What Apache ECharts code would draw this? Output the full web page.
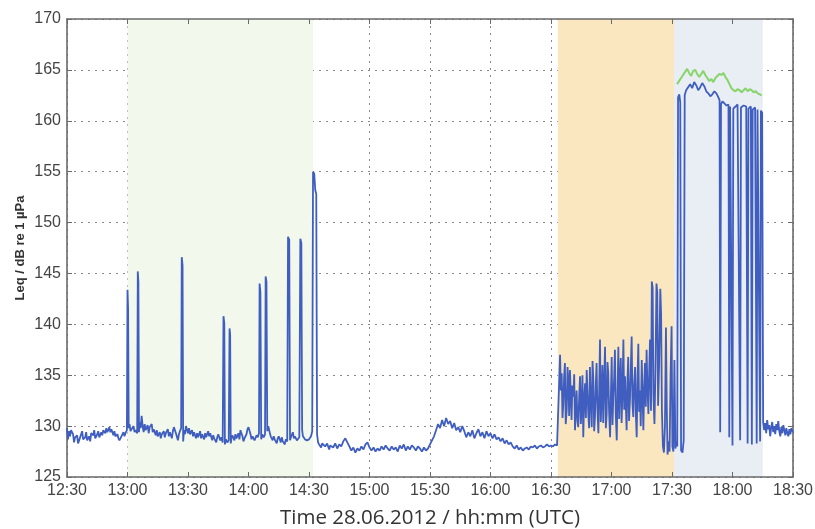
<!DOCTYPE html>
<html>
<head>
<meta charset="utf-8">
<title>Leq trace 28.06.2012</title>
<script src="https://cdn.jsdelivr.net/npm/echarts@6/dist/echarts.min.js"></script>
<style>
  html, body { margin: 0; padding: 0; background: #fff; }
  #chart { width: 815px; height: 529px; }
</style>
</head>
<body>
<div id="chart"></div>
<script>
// x = minutes after 12:30 UTC, y = Leq in dB re 1 µPa
const timeLabels = ['12:30', '13:00', '13:30', '14:00', '14:30', '15:00', '15:30',
  '16:00', '16:30', '17:00', '17:30', '18:00', '18:30']

// shaded periods [start, end] in minutes
const greenPeriod = [30, 122]
const orangePeriod = [243.4, 301]
const greyPeriod = [301, 345]

// 12:30 - 14:34, background with short passes
const earlyTrace = [
  [0, 129.8], [0.5, 128.7], [1, 129.5], [1.5, 129.0], [2, 129.6], [3, 129.2], [3.5, 128.4], [4, 128.9],
  [5, 129.1], [5.5, 128.3], [6, 128.6], [7, 129.2], [7.5, 129.5], [8, 128.7], [9, 128.9], [9.5, 129.4],
  [10, 128.6], [11, 129.0], [11.5, 128.5], [12, 129.3], [13, 129.1], [13.5, 129.6], [14, 128.8], [15, 129.2],
  [15.5, 129.5], [16, 128.9], [17, 129.4], [17.5, 129.1], [18, 129.6], [19, 129.3], [19.5, 129.8], [20, 129.4],
  [21, 129.9], [21.5, 129.4], [22, 129.7], [23, 129.1], [23.5, 129.5], [24, 129.0], [25, 129.2], [25.5, 128.8],
  [26, 128.6], [27, 129.0], [28, 129.4], [28.5, 129.0], [29, 129.3], [29.7, 129.6], [30.0, 143.4], [30.3, 141.5],
  [30.6, 129.8], [31, 130.2], [31.5, 129.5], [32, 129.7], [33, 130.0], [33.5, 129.4], [34, 129.6], [34.8, 129.3],
  [35.1, 145.2], [35.4, 144.2], [35.7, 129.4], [36, 130.4], [36.5, 129.8], [37, 131.0], [37.5, 130.0], [38, 129.4],
  [38.5, 130.2], [39, 129.6], [40, 130.1], [40.5, 129.3], [41, 129.9], [42, 130.2], [42.5, 129.4], [43, 129.7],
  [44, 129.1], [44.5, 129.6], [45, 129.0], [46, 129.4], [46.5, 128.8], [47, 129.2], [48, 129.5], [48.5, 128.9],
  [49, 129.3], [50, 129.7], [50.5, 129.0], [51, 129.4], [52, 128.8], [52.5, 129.5], [53, 129.9], [54, 129.3],
  [55, 128.6], [55.5, 129.2], [56, 129.5], [56.6, 129.8], [56.9, 146.6], [57.3, 145.8], [57.6, 128.5], [58, 129.6],
  [58.5, 129.2], [59, 130.0], [60, 129.3], [60.5, 129.8], [61, 129.2], [62, 129.6], [62.5, 129.0], [63, 129.4],
  [64, 128.8], [64.5, 129.3], [65, 128.9], [66, 129.5], [66.5, 128.8], [67, 129.2], [68, 128.7], [68.5, 129.3],
  [69, 128.9], [70, 129.5], [70.5, 129.0], [71, 129.3], [72, 128.6], [72.5, 129.1], [73, 128.8], [74, 128.4],
  [74.5, 128.9], [75, 129.2], [76, 128.6], [76.5, 128.9], [77.2, 128.4], [77.6, 140.8], [78.0, 140.1], [78.3, 128.2],
  [78.8, 128.7], [79.5, 128.4], [80.2, 128.6], [80.6, 139.6], [80.9, 139.0], [81.2, 128.3], [81.6, 128.9], [82, 129.1],
  [83, 128.6], [83.5, 129.2], [84, 128.8], [85, 129.3], [85.5, 128.7], [86, 129.6], [87, 129.0], [87.5, 128.5],
  [88, 128.8], [89, 129.2], [89.5, 129.7], [90, 129.9], [91, 129.2], [91.5, 128.7], [92, 129.0], [93, 128.6],
  [94, 129.1], [94.6, 128.9], [95.2, 129.3], [95.5, 144.0], [95.9, 143.2], [96.3, 128.7], [96.8, 129.2], [97.5, 128.9],
  [98.2, 129.2], [98.5, 144.7], [98.9, 144.2], [99.3, 129.5], [99.8, 130.0], [100.5, 129.4], [101, 129.0], [102, 128.6],
  [102.5, 129.0], [103, 128.7], [104, 128.3], [104.5, 128.8], [105, 129.0], [106, 128.4], [106.5, 128.9], [107, 128.5],
  [108, 128.2], [108.5, 128.7], [109.2, 128.5], [109.6, 148.6], [110.2, 148.3], [110.6, 128.6], [111, 128.9], [112, 129.4],
  [112.5, 128.8], [113, 129.0], [114, 128.6], [115.2, 128.9], [115.7, 148.4], [116.2, 148.0], [116.6, 129.6], [117, 129.0],
  [118, 128.7], [119, 128.6], [120, 128.7], [121, 129.0], [121.6, 129.5], [122.0, 155.0], [122.6, 154.8], [123.1, 153.2],
  [123.6, 152.8], [124.0, 129.2]
]

// 14:34 - 16:33, quiet period
const quietTrace = [
  [124.5, 128.4], [125, 128.2], [126, 127.9], [126.5, 128.3], [127, 128.4], [128, 128.0], [129, 128.3], [130, 127.7],
  [130.5, 128.1], [131, 128.1], [132, 127.9], [133, 128.3], [134, 127.8], [135, 128.2], [136, 128.0], [137, 128.5],
  [138, 128.8], [139, 128.4], [140, 128.0], [141, 127.6], [142, 127.9], [143, 127.4], [144, 127.8], [145, 127.6],
  [146, 128.0], [147, 127.7], [148, 128.2], [149, 128.4], [150, 127.9], [151, 127.6], [152, 127.9], [153, 127.5],
  [154, 127.8], [155, 127.6], [156, 128.0], [157, 127.7], [158, 128.1], [159, 127.8], [160, 127.6], [161, 128.0],
  [162, 127.7], [163, 127.9], [164, 127.5], [165, 128.1], [166, 127.8], [167, 128.2], [168, 127.6], [169, 128.0],
  [170, 127.7], [171, 128.1], [172, 127.9], [173, 127.6], [174, 128.0], [175, 127.8], [176, 127.5], [177, 127.9],
  [178, 127.6], [179, 127.8], [180, 128.2], [181, 128.6], [182, 129.0], [183, 129.6], [184, 130.2], [185, 129.8],
  [186, 130.6], [187, 130.0], [188, 130.8], [189, 130.2], [190, 130.5], [191, 129.8], [192, 130.3], [193, 129.6],
  [194, 129.9], [195, 129.4], [196, 130.0], [197, 129.5], [198, 128.9], [199, 129.4], [200, 129.0], [201, 129.6],
  [202, 128.8], [203, 129.3], [204, 129.7], [205, 129.0], [206, 129.4], [207, 128.8], [208, 129.5], [209, 129.0],
  [210, 129.3], [211, 128.8], [212, 129.2], [213, 128.7], [214, 128.9], [215, 128.5], [216, 128.8], [217, 128.3],
  [218, 128.6], [219, 128.2], [220, 128.4], [221, 128.0], [222, 127.8], [223, 128.1], [224, 127.7], [225, 127.9],
  [226, 127.6], [227, 127.8], [228, 127.9], [229, 127.7], [230, 128.0], [231, 127.9], [232, 128.1], [233, 127.8],
  [234, 128.0], [235, 128.1], [236, 127.9], [237, 128.0], [238, 128.2], [239, 128.0], [240, 128.1], [241, 128.0],
  [242, 128.2], [243, 128.1], [243.8, 128.0]
]

// 16:33 - 17:31, busy period
const busyTrace = [
  [244.5, 137.0], [244.9, 133.5], [245.3, 135.2], [245.7, 130.8], [246.1, 132.2], [246.5, 134.8], [246.9, 136.2],
  [247.3, 130.2], [247.8, 131.6], [248.2, 135.8], [248.6, 134.5], [249.0, 131.0], [249.4, 135.5], [249.8, 133.2],
  [250.2, 130.6], [250.6, 134.0], [251.1, 132.9], [251.5, 135.1], [251.9, 129.6], [252.3, 131.8], [252.7, 133.5],
  [253.1, 130.5], [253.5, 129.9], [254.0, 133.0], [254.4, 134.9], [254.8, 130.2], [255.2, 131.9], [255.6, 135.0],
  [256.0, 128.9], [256.4, 132.4], [256.9, 134.2], [257.3, 130.8], [257.7, 135.5], [258.1, 133.4], [258.5, 131.2],
  [258.9, 129.8], [259.3, 135.8], [259.7, 132.6], [260.2, 129.9], [260.6, 136.4], [261.0, 134.5], [261.4, 129.5],
  [261.8, 130.9], [262.2, 134.0], [262.6, 136.2], [263.0, 131.8], [263.5, 129.3], [263.9, 133.6], [264.3, 138.5],
  [264.7, 130.4], [265.1, 132.9], [265.5, 136.0], [265.9, 130.3], [266.3, 133.9], [266.8, 137.8], [267.2, 129.8],
  [267.6, 131.2], [268.0, 136.3], [268.4, 135.2], [268.8, 131.5], [269.3, 128.9], [269.7, 133.0], [270.1, 136.8],
  [270.5, 130.1], [270.9, 132.9], [271.3, 134.6], [271.7, 137.5], [272.1, 131.3], [272.6, 128.6], [273.0, 133.4],
  [273.4, 137.8], [273.8, 130.7], [274.2, 134.5], [274.6, 136.7], [275.0, 130.3], [275.4, 133.1], [275.9, 138.5],
  [276.3, 131.6], [276.7, 134.9], [277.1, 132.0], [277.5, 129.6], [277.9, 134.4], [278.3, 136.8], [278.7, 130.5],
  [279.2, 132.9], [279.6, 135.9], [280.0, 138.8], [280.4, 132.2], [280.8, 130.9], [281.2, 134.0], [281.7, 135.8],
  [282.1, 131.0], [282.5, 128.9], [282.9, 134.7], [283.3, 138.1], [283.7, 131.4], [284.1, 133.5], [284.5, 130.0],
  [285.0, 136.5], [285.4, 133.0], [285.8, 129.6], [286.2, 133.8], [286.6, 136.2], [287.0, 131.9], [287.4, 137.5],
  [287.8, 134.0], [288.3, 131.2], [288.7, 135.4], [289.1, 138.5], [289.6, 131.5], [290.0, 144.2], [290.4, 143.6],
  [290.8, 133.0], [291.3, 130.2], [291.8, 135.5], [292.3, 144.0], [292.7, 143.2], [293.1, 132.0], [293.6, 136.0],
  [294.2, 143.5], [294.6, 141.0], [295.0, 131.5], [295.5, 128.0], [296.0, 127.4], [296.5, 130.0], [297.0, 139.7],
  [297.4, 132.0], [297.8, 127.2], [298.3, 128.5], [298.8, 127.5], [299.3, 135.0], [299.8, 139.8], [300.2, 128.0],
  [300.7, 127.5], [301.2, 136.5], [301.7, 127.8], [302.2, 128.5]
]

// 17:31 - 18:30, loud period then back to background
const peakTrace = [
  [302.6, 128.0], [303.0, 162.3], [303.6, 162.6], [304.1, 161.8], [304.5, 127.6], [305.2, 127.4], [305.8, 128.6],
  [306.3, 162.5], [307, 163.0], [308, 163.3], [309, 163.6], [310, 163.2], [311, 163.8], [312, 163.5], [313, 163.0],
  [314, 163.3], [315, 163.7], [316, 163.4], [317, 162.9], [318, 162.7], [319, 162.4], [320, 162.6], [321, 162.9],
  [322, 162.7], [323, 162.3], [323.6, 162.0], [323.9, 129.4], [324.3, 161.6], [325, 161.9], [326, 161.7], [327, 161.5],
  [328, 161.6], [328.4, 128.9], [328.8, 161.4], [329.6, 161.3], [330.0, 128.1], [330.4, 161.2], [331.5, 161.4],
  [332.5, 161.6], [333.4, 161.5], [333.8, 128.6], [334.2, 161.3], [335.5, 161.5], [336.8, 161.4], [337.5, 128.3],
  [337.9, 161.2], [339.1, 161.4], [339.6, 128.2], [340.0, 161.1], [341.2, 161.3], [342.0, 128.3], [342.4, 161.1],
  [343.2, 161.2], [343.7, 128.5], [344.1, 161.0], [344.7, 160.8], [345.2, 130.4], [345.7, 129.6], [346.2, 130.3],
  [346.7, 129.3], [347.2, 130.6], [347.7, 129.7], [348.2, 130.1], [348.7, 129.0], [349.2, 129.9], [349.7, 130.4],
  [350.2, 129.4], [350.7, 130.0], [351.2, 129.2], [351.7, 130.2], [352.2, 129.6], [352.7, 130.5], [353.2, 129.5],
  [353.7, 129.0], [354.2, 129.9], [354.7, 129.3], [355.2, 130.1], [355.7, 129.6], [356.2, 129.1], [356.7, 129.8],
  [357.2, 129.3], [357.7, 129.0], [358.2, 129.7], [358.7, 129.2], [359.2, 129.8], [360, 129.4]
]

// green trace during the loud period
const upperTrace = [
  [302.5, 163.6], [303.5, 163.9], [304.5, 164.2], [305.5, 164.5], [306.5, 164.8], [307.5, 165.1], [308.5, 164.7],
  [309.5, 164.4], [310.5, 164.9], [311.5, 165.0], [312.5, 164.6], [313.5, 164.3], [314.5, 164.6], [315.5, 164.9],
  [316.5, 164.5], [317.5, 164.2], [318.5, 163.9], [319.5, 164.1], [320.5, 163.8], [321.5, 164.2], [322.5, 164.4],
  [323.5, 164.6], [324.5, 164.5], [325.5, 164.7], [326.5, 164.3], [327.5, 164.0], [328.5, 163.6], [329.5, 163.2],
  [330.5, 163.0], [331.5, 162.9], [332.5, 163.1], [333.5, 163.0], [334.5, 162.8], [335.5, 163.0], [336.5, 163.2],
  [337.5, 162.9], [338.5, 163.1], [339.5, 163.0], [340.5, 162.8], [341.5, 162.9], [342.5, 162.7], [343.5, 162.6],
  [344.5, 162.5]
]

const blueTrace = earlyTrace.concat(quietTrace, busyTrace, peakTrace)

const frameColor = '#6a6a6a'
const labelFont = 'Liberation Sans'

const chart = echarts.init(document.getElementById('chart'))

const option = {
  animation: false,
  grid: { left: 67, right: 22, top: 19, bottom: 52, outerBoundsMode: 'none' },
  xAxis: [
    {
      type: 'value',
      min: 0,
      max: 360,
      interval: 30,
      z: 1,
      name: 'Time 28.06.2012 / hh:mm (UTC)',
      nameLocation: 'middle',
      nameGap: 31,
      nameMoveOverlap: false,
      nameTextStyle: { fontFamily: 'Open Sans', fontSize: 20.5, color: '#333' },
      axisLine: { onZero: false, lineStyle: { color: frameColor, width: 1.6 } },
      axisTick: { inside: true, length: 5, lineStyle: { color: frameColor } },
      axisLabel: {
        formatter: v => timeLabels[Math.round(v / 30)],
        color: '#444',
        fontSize: 16,
        fontFamily: labelFont,
        margin: 6
      },
      splitLine: { show: true, lineStyle: { color: '#888', type: [2, 5] } }
    },
    {
      type: 'value',
      position: 'top',
      min: 0,
      max: 360,
      interval: 30,
      z: 1,
      axisLine: { onZero: false, lineStyle: { color: frameColor, width: 1.6 } },
      axisTick: { inside: true, length: 5, lineStyle: { color: frameColor } },
      axisLabel: { show: false },
      splitLine: { show: false }
    }
  ],
  yAxis: [
    {
      type: 'value',
      min: 125,
      max: 170,
      interval: 5,
      z: 1,
      name: 'Leq / dB re 1 µPa',
      nameLocation: 'middle',
      nameRotate: 90,
      nameGap: 40,
      nameMoveOverlap: false,
      nameTextStyle: { fontFamily: labelFont, fontSize: 13, fontWeight: 'bold', color: '#333' },
      axisLine: { onZero: false, lineStyle: { color: frameColor, width: 1.6 } },
      axisTick: { inside: true, length: 5, lineStyle: { color: frameColor } },
      axisLabel: { color: '#444', fontSize: 16, fontFamily: labelFont, margin: 6 },
      splitLine: { show: true, lineStyle: { color: '#888', type: [2, 5] } }
    },
    {
      type: 'value',
      position: 'right',
      min: 125,
      max: 170,
      interval: 5,
      z: 1,
      axisLine: { onZero: false, lineStyle: { color: frameColor, width: 1.6 } },
      axisTick: { inside: true, length: 5, lineStyle: { color: frameColor } },
      axisLabel: { show: false },
      splitLine: { show: false }
    }
  ],
  series: [
    {
      // background shading only
      name: 'periods',
      type: 'line',
      z: 0,
      silent: true,
      data: [[0, 125]],
      showSymbol: false,
      lineStyle: { opacity: 0 },
      markArea: {
        silent: true,
        data: [
          [{ xAxis: greenPeriod[0], itemStyle: { color: '#f3f8ec' } }, { xAxis: greenPeriod[1] }],
          [{ xAxis: orangePeriod[0], itemStyle: { color: '#fae7bf' } }, { xAxis: orangePeriod[1] }],
          [{ xAxis: greyPeriod[0], itemStyle: { color: '#e9edf4' } }, { xAxis: greyPeriod[1] }]
        ]
      }
    },
    {
      name: 'Leq',
      type: 'line',
      z: 3,
      data: blueTrace,
      showSymbol: false,
      lineStyle: { color: '#3f5ec0', width: 1.8 }
    },
    {
      name: 'Leq upper',
      type: 'line',
      z: 4,
      data: upperTrace,
      showSymbol: false,
      lineStyle: { color: '#86d46a', width: 2 }
    }
  ]
}

chart.setOption(option)
</script>
</body>
</html>
